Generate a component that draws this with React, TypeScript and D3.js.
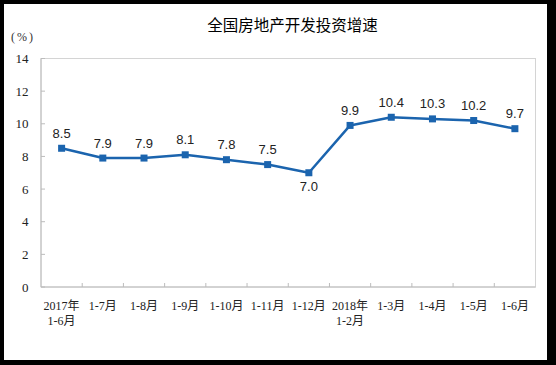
import React from 'react';
import * as d3 from 'd3';

const categories = [
  ['2017年', '1-6月'], ['1-7月'], ['1-8月'], ['1-9月'], ['1-10月'], ['1-11月'],
  ['1-12月'], ['2018年', '1-2月'], ['1-3月'], ['1-4月'], ['1-5月'], ['1-6月'],
];
const values = [8.5, 7.9, 7.9, 8.1, 7.8, 7.5, 7.0, 9.9, 10.4, 10.3, 10.2, 9.7];
const yTicks = [0, 2, 4, 6, 8, 10, 12, 14];
const title = '全国房地产开发投资增速';
const unit = '(%)';

const W = 556;
const H = 365;
const plot = { left: 41, right: 535.5, top: 58.5, bottom: 287 };
const blue = '#1b64ae';

export default function App() {
  const x = d3.scaleBand<number>()
    .domain(categories.map((_, i) => i))
    .range([plot.left, plot.right]);
  const y = d3.scaleLinear().domain([0, 14]).range([plot.bottom, plot.top]);
  const cx = (i: number) => (x(i) as number) + x.bandwidth() / 2;

  const line = d3.line<number>()
    .x((_, i) => cx(i))
    .y(d => y(d));

  const serif = '"Liberation Serif", "Times New Roman", "Noto Sans CJK SC", serif';
  const sans = '"Liberation Sans", Arial, sans-serif';

  return (
    <svg width={W} height={H} style={{ position: 'absolute', left: 0, top: 0 }}>
      <rect x={0} y={0} width={W} height={H} fill="#000" />
      <rect x={4} y={4} width={543} height={356} fill="#fff" />

      <text x={292.5} y={31} textAnchor="middle" fontSize={15.5}
        fontFamily='"Noto Sans CJK SC", sans-serif' fill="#000">{title}</text>
      <text x={23} y={41} textAnchor="middle" fontSize={12} letterSpacing={2}
        fontFamily={serif} fill="#333">{unit}</text>

      {/* plot border */}
      <rect x={plot.left} y={plot.top} width={plot.right - plot.left} height={plot.bottom - plot.top}
        fill="none" stroke="#d4d4d4" strokeWidth={1} />
      <line x1={plot.left} x2={plot.left} y1={plot.top} y2={plot.bottom} stroke="#bcbcbc" />
      <line x1={plot.left} x2={plot.right} y1={plot.bottom} y2={plot.bottom} stroke="#bcbcbc" />

      {yTicks.map(t => (
        <g key={t}>
          <line x1={plot.left} x2={plot.left + 4} y1={y(t)} y2={y(t)} stroke="#bcbcbc" />
          <text x={28.5} y={y(t) + 4.5} textAnchor="end" fontSize={13} fontFamily={serif} fill="#222">{t}</text>
        </g>
      ))}

      {categories.map((c, i) => (
        <g key={i}>
          {i > 0 && (
            <line x1={x(i) as number} x2={x(i) as number} y1={plot.bottom} y2={plot.bottom - 4} stroke="#bcbcbc" />
          )}
          {c.map((s, j) => (
            <text key={j} x={cx(i)} y={309.5 + j * 15.5} textAnchor="middle" fontSize={12}
              fontFamily={serif} fill="#222">{s}</text>
          ))}
        </g>
      ))}

      <path d={line(values) || ''} fill="none" stroke={blue} strokeWidth={2.5} strokeLinejoin="round" />
      {values.map((v, i) => (
        <rect key={i} x={cx(i) - 3.5} y={y(v) - 3.5} width={7} height={7} fill={blue} />
      ))}

      {values.map((v, i) => {
        const below = i === 6;
        return (
          <text key={i} x={cx(i)} y={below ? y(v) + 18 : y(v) - 10.5} textAnchor="middle"
            fontSize={13} fontFamily={sans} fill="#222">{v.toFixed(1)}</text>
        );
      })}
    </svg>
  );
}
